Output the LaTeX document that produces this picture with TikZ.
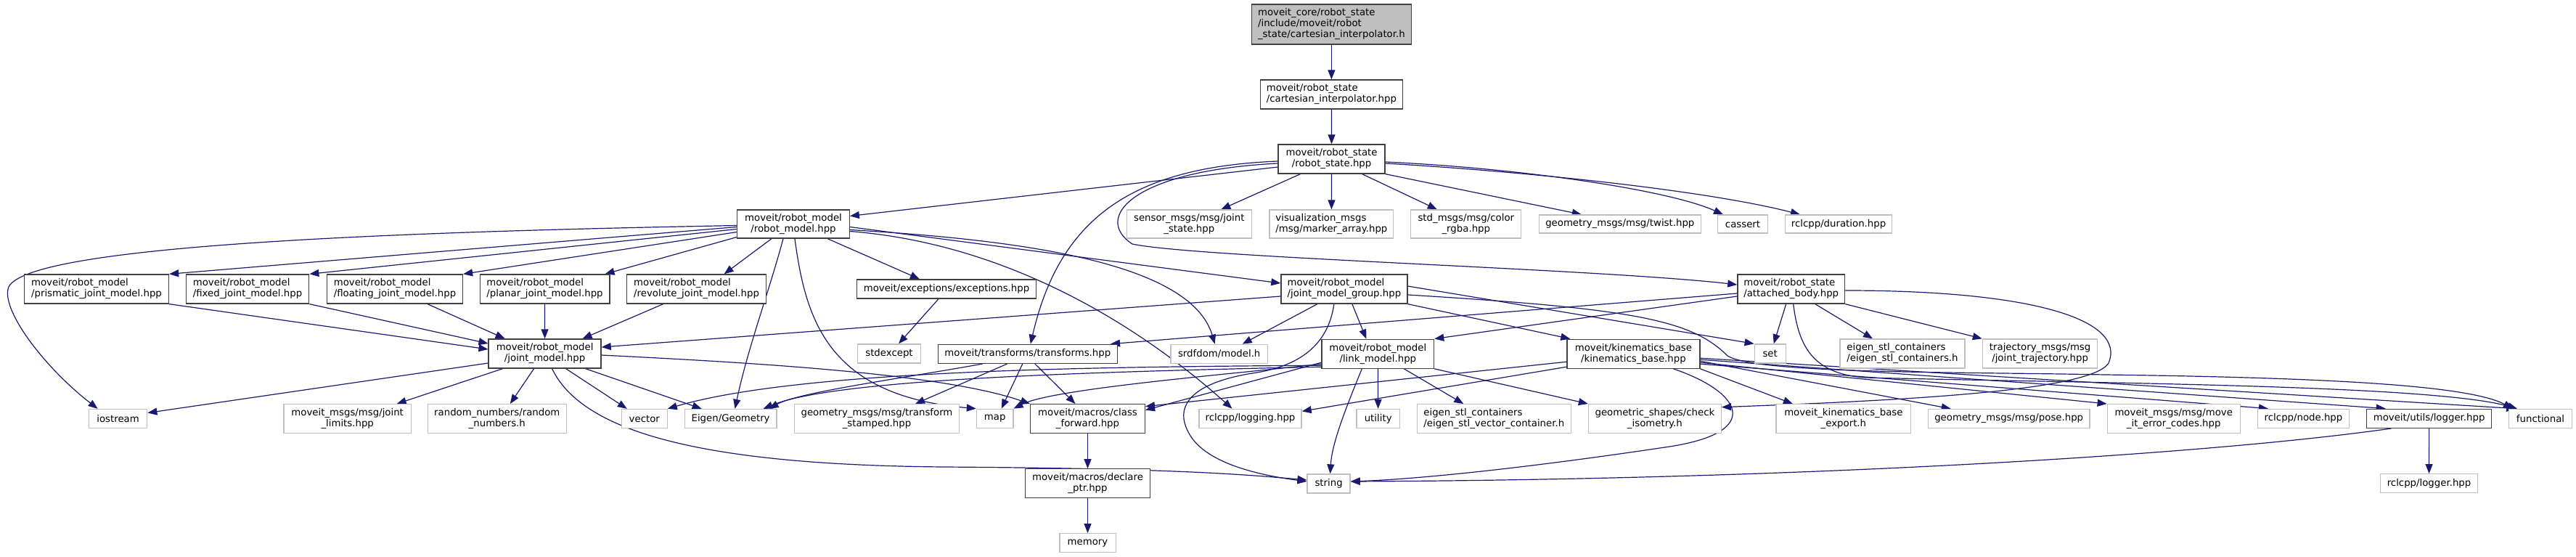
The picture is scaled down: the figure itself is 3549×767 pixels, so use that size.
\documentclass[tikz,border=0pt]{standalone}
\usepackage{fontspec}
\setmainfont{DejaVu Sans}
\usetikzlibrary{arrows.meta,calc}
\pgfdeclarelayer{bg}
\pgfsetlayers{bg,main}
\definecolor{edgec}{HTML}{191970}
\definecolor{docb}{HTML}{404040}
\definecolor{undocb}{HTML}{BFBFBF}
\definecolor{topfill}{HTML}{BFBFBF}
\begin{document}
\begin{tikzpicture}[x=1pt,y=-1pt,
  box/.style={draw, fill=white, line width=1.3pt, inner sep=0pt, font=\fontsize{13.3}{15}\selectfont, text=black},
  doc/.style={box, draw=docb},
  ext/.style={box, draw=undocb},
  L/.style={align=left},
  C/.style={align=center},
  wh/.style 2 args={minimum width=#1pt, minimum height=#2pt},
  edge/.style={draw=edgec, line width=1.2pt, -{Triangle[length=13pt,width=10pt]}},
]
\useasboundingbox (0,0) rectangle (3549,767);
% ---------- nodes ----------
\node[doc,L,wh={220.4}{55},fill=topfill] (top) at (1834.4,33.5) {moveit\_core/robot\_state\\/include/moveit/robot\\\_state/cartesian\_interpolator.h};
\node[doc,L,wh={196}{40}] (cart) at (1834.4,130) {moveit/robot\_state\\/cartesian\_interpolator.hpp};
\node[doc,C,wh={147}{40}] (rs) at (1834.6,219) {moveit/robot\_state\\/robot\_state.hpp};
\node[ext,C,wh={171.8}{39}] (sensor) at (1638.3,308.5) {sensor\_msgs/msg/joint\\\_state.hpp};
\node[ext,L,wh={170.7}{39}] (vis) at (1834.4,308.5) {visualization\_msgs\\/msg/marker\_array.hpp};
\node[ext,C,wh={152}{39}] (color) at (2019.8,308.5) {std\_msgs/msg/color\\\_rgba.hpp};
\node[ext,C,wh={223}{25}] (twist) at (2231.8,308.5) {geometry\_msgs/msg/twist.hpp};
\node[ext,C,wh={69.3}{25}] (cassert) at (2401,308.5) {cassert};
\node[ext,C,wh={147}{25}] (duration) at (2533,308.5) {rclcpp/duration.hpp};
\node[doc,C,wh={154.5}{39}] (rm) at (1093,308.5) {moveit/robot\_model\\/robot\_model.hpp};
\node[doc,L,wh={199}{40}] (prismatic) at (133,398) {moveit/robot\_model\\/prismatic\_joint\_model.hpp};
\node[doc,L,wh={169.5}{40}] (fixed) at (341,398) {moveit/robot\_model\\/fixed\_joint\_model.hpp};
\node[doc,L,wh={187}{40}] (floating) at (544,398) {moveit/robot\_model\\/floating\_joint\_model.hpp};
\node[doc,L,wh={178.7}{40}] (planar) at (750.5,398) {moveit/robot\_model\\/planar\_joint\_model.hpp};
\node[doc,L,wh={192}{40}] (revolute) at (959.6,398) {moveit/robot\_model\\/revolute\_joint\_model.hpp};
\node[doc,C,wh={247}{26}] (exceptions) at (1304,398) {moveit/exceptions/exceptions.hpp};
\node[doc,L,wh={174}{40}] (jmg) at (1851.9,398) {moveit/robot\_model\\/joint\_model\_group.hpp};
\node[doc,L,wh={147.7}{40}] (ab) at (2467.7,398) {moveit/robot\_state\\/attached\_body.hpp};
\node[doc,C,wh={155}{40}] (jm) at (750.6,487) {moveit/robot\_model\\/joint\_model.hpp};
\node[ext,C,wh={87}{26}] (stdexcept) at (1225,487) {stdexcept};
\node[doc,C,wh={247.2}{26}] (transforms) at (1415.8,487.3) {moveit/transforms/transforms.hpp};
\node[ext,C,wh={133.5}{26}] (srdf) at (1679.7,487.3) {srdfdom/model.h};
\node[doc,C,wh={154.6}{40}] (link) at (1898.3,487.2) {moveit/robot\_model\\/link\_model.hpp};
\node[doc,C,wh={182.9}{40}] (kin) at (2250.4,487.2) {moveit/kinematics\_base\\/kinematics\_base.hpp};
\node[ext,C,wh={43}{26}] (set) at (2438.7,487) {set};
\node[ext,L,wh={172}{40}] (eigenstl) at (2621,487) {eigen\_stl\_containers\\/eigen\_stl\_containers.h};
\node[ext,C,wh={158.4}{40}] (traj) at (2810.6,487) {trajectory\_msgs/msg\\/joint\_trajectory.hpp};
\node[ext,C,wh={80.4}{26}] (iostream) at (162.6,576.5) {iostream};
\node[ext,C,wh={175.2}{40}] (jlimits) at (478.7,576.7) {moveit\_msgs/msg/joint\\\_limits.hpp};
\node[ext,C,wh={191}{40}] (random) at (684.8,576.7) {random\_numbers/random\\\_numbers.h};
\node[ext,C,wh={62.7}{26}] (vector) at (887.8,576.5) {vector};
\node[ext,C,wh={126.7}{26}] (eigen) at (1006.6,576.5) {Eigen/Geometry};
\node[ext,C,wh={226.5}{40}] (tfstamped) at (1208,576.7) {geometry\_msgs/msg/transform\\\_stamped.hpp};
\node[ext,C,wh={50.5}{26}] (map) at (1370.7,576.3) {map};
\node[doc,C,wh={157.7}{40}] (cf) at (1498.5,576.7) {moveit/macros/class\\\_forward.hpp};
\node[ext,C,wh={141.2}{26}] (logging) at (1722.5,576.3) {rclcpp/logging.hpp};
\node[ext,C,wh={59.7}{26}] (utility) at (1898.7,576.5) {utility};
\node[ext,L,wh={212}{40}] (evc) at (2058.3,576.7) {eigen\_stl\_containers\\/eigen\_stl\_vector\_container.h};
\node[ext,C,wh={182.9}{40}] (iso) at (2279.9,576.7) {geometric\_shapes/check\\\_isometry.h};
\node[ext,C,wh={185.6}{40}] (kbe) at (2539.9,576.7) {moveit\_kinematics\_base\\\_export.h};
\node[ext,C,wh={222.7}{26}] (pose) at (2767.7,576.5) {geometry\_msgs/msg/pose.hpp};
\node[ext,C,wh={183}{40}] (errc) at (2994.7,576.7) {moveit\_msgs/msg/move\\\_it\_error\_codes.hpp};
\node[ext,C,wh={125.7}{26}] (rnode) at (3173.5,576.3) {rclcpp/node.hpp};
\node[doc,C,wh={172.3}{26}] (logger) at (3346.6,576.3) {moveit/utils/logger.hpp};
\node[ext,C,wh={86.8}{26}] (functional) at (3500,576.3) {functional};
\node[doc,C,wh={172.2}{40}] (dp) at (1498.5,665.8) {moveit/macros/declare\\\_ptr.hpp};
\node[ext,C,wh={59}{26}] (string) at (1830.6,666) {string};
\node[ext,C,wh={133.4}{26}] (rlogger) at (3346.5,665.7) {rclcpp/logger.hpp};
\node[ext,C,wh={77.3}{26}] (memory) at (1498.5,747.7) {memory};
% ---------- edges ----------
\begin{pgfonlayer}{bg}
\draw[edge] (top) -- (cart);
\draw[edge] (cart) -- (rs);
% robot_state
\draw[edge] ([shift={(0,11)}]rs.west) -- ([shift={(0,-11)}]rm.east);
\draw[edge] ([shift={(-43,0)}]rs.south) -- ([shift={(44,0)}]sensor.north);
\draw[edge] (rs) -- (vis);
\draw[edge] ([shift={(42,0)}]rs.south) -- ([shift={(-40,0)}]color.north);
\draw[edge] (rs.south east) -- ([shift={(-53,0)}]twist.north);
\draw[edge] ([shift={(0,4)}]rs.east) .. controls (2100,232) and (2300,262) .. ([shift={(-27,0)}]cassert.north);
\draw[edge] ([shift={(0,6)}]rs.east) .. controls (2100,236) and (2350,262) .. ([shift={(-53,0)}]duration.north);
\draw[edge] ([shift={(0,6)}]rs.west) .. controls (1560,235) and (1505,300) .. (1560,336) .. controls (1650,355) and (2200,370) .. ([shift={(0,-6)}]ab.west);
\draw[edge] ([shift={(0,3)}]rs.west) .. controls (1560,230) and (1460,300) .. ([shift={(4,0)}]transforms.north);
% robot_model
\draw[edge] ([shift={(0,2)}]rm.west) .. controls (500,320) and (40,340) .. (12,395) .. controls (0,425) and (60,505) .. ([shift={(-28,0)}]iostream.north);
\draw[edge] ([shift={(0,4)}]rm.west) -- (prismatic.north east);
\draw[edge] ([shift={(0,7)}]rm.west) -- (fixed.north east);
\draw[edge] ([shift={(0,11)}]rm.west) -- (floating.north east);
\draw[edge] ([shift={(0,18)}]rm.west) -- ([shift={(-7,0)}]planar.north east);
\draw[edge] ([shift={(-30,0)}]rm.south) -- ([shift={(38,0)}]revolute.north);
\draw[edge] ([shift={(47,0)}]rm.south) -- ([shift={(-37,0)}]exceptions.north);
\draw[edge] ([shift={(0,4)}]rm.east) -- ([shift={(0,-8)}]jmg.west);
\draw[edge] ([shift={(0,8)}]rm.east) .. controls (1400,330) and (1640,360) .. ([shift={(-6,0)}]srdf.north);
\draw[edge] ([shift={(0,10)}]rm.east) .. controls (1380,335) and (1560,440) .. ([shift={(-25,0)}]logging.north);
\draw[edge] ([shift={(-14,0)}]rm.south) .. controls (1060,400) and (1030,480) .. ([shift={(6,0)}]eigen.north);
\draw[edge] ([shift={(2,0)}]rm.south) .. controls (1110,440) and (1140,545) .. (map.north west);
% joint models -> joint_model
\draw[edge] (prismatic.south east) -- ([shift={(0,-6)}]jm.west);
\draw[edge] (fixed.south east) -- ([shift={(0,-14)}]jm.west);
\draw[edge] ([shift={(45,0)}]floating.south) -- ([shift={(-55,0)}]jm.north);
\draw[edge] (planar) -- (jm);
\draw[edge] ([shift={(-46,0)}]revolute.south) -- ([shift={(52,0)}]jm.north);
\draw[edge] ([shift={(-11,0)}]exceptions.south) -- ([shift={(13,0)}]stdexcept.north);
% joint_model
\draw[edge] ([shift={(0,13)}]jm.west) -- ([shift={(0,-8)}]iostream.east);
\draw[edge] ([shift={(-58,0)}]jm.south) -- ([shift={(68,0)}]jlimits.north);
\draw[edge] ([shift={(-15,0)}]jm.south) -- ([shift={(18,0)}]random.north);
\draw[edge] ([shift={(29,0)}]jm.south) -- ([shift={(-24,0)}]vector.north);
\draw[edge] ([shift={(56,0)}]jm.south) -- ([shift={(-40,0)}]eigen.north);
\draw[edge] ([shift={(10,0)}]jm.south) .. controls (800,590) and (950,640) .. (1300,643) .. controls (1600,645) and (1700,652) .. ([shift={(0,-5)}]string.west);
\draw[edge] ([shift={(0,2)}]jm.east) .. controls (1050,500) and (1300,515) .. (cf.north west);
% joint_model_group
\draw[edge] ([shift={(0,10)}]jmg.west) -- ([shift={(0,-9)}]jm.east);
\draw[edge] ([shift={(11,0)}]jmg.south) -- ([shift={(-16,0)}]link.north);
\draw[edge] (jmg.south east) -- ([shift={(5,0)}]kin.north west);
\draw[edge] ([shift={(-37,0)}]jmg.south) -- ([shift={(32,0)}]srdf.north);
\draw[edge] ([shift={(0,-4)}]jmg.east) -- (set.north west);
\draw[edge] ([shift={(-14,0)}]jmg.south) .. controls (1830,475) and (1790,505) .. (1725,514) .. controls (1640,528) and (1615,560) .. (1640,600) .. controls (1665,640) and (1740,655) .. ([shift={(0,-3)}]string.west);
\draw[edge] ([shift={(0,8)}]jmg.east) .. controls (2250,425) and (2330,440) .. (2380,490) .. controls (2420,515) and (2700,512) .. (2900,516) .. controls (3200,520) and (3400,530) .. ([shift={(6,0)}]functional.north west);
% kinematics_base
\draw[edge] ([shift={(0,18)}]kin.west) -- ([shift={(0,-10)}]logging.east);
\draw[edge] ([shift={(0,11)}]kin.west) -- ([shift={(0,-17)}]cf.east);
\draw[edge] (kin.south east) -- ([shift={(-70,0)}]kbe.north);
\draw[edge] ([shift={(0,10)}]kin.east) -- ([shift={(-80,0)}]pose.north);
\draw[edge] ([shift={(0,12)}]kin.east) -- (errc.north west);
\draw[edge] ([shift={(0,14)}]kin.east) -- ([shift={(15,0)}]rnode.north west);
\draw[edge] ([shift={(0,8)}]kin.east) -- ([shift={(27,0)}]logger.north west);
\draw[edge] ([shift={(0,6)}]kin.east) -- ([shift={(10,0)}]functional.north west);
\draw[edge] ([shift={(55,0)}]kin.south) .. controls (2400,540) and (2430,595) .. (2300,615) .. controls (2100,645) and (1950,660) .. ([shift={(0,-3)}]string.east);
% attached_body
\draw[edge] ([shift={(0,10)}]ab.west) -- (link.north east);
\draw[edge] ([shift={(0,6)}]ab.west) -- ([shift={(-10,0)}]transforms.north east);
\draw[edge] ([shift={(-7,0)}]ab.south) -- ([shift={(5,0)}]set.north);
\draw[edge] ([shift={(33,0)}]ab.south) -- ([shift={(-41,0)}]eigenstl.north);
\draw[edge] (ab.south east) -- (traj.north west);
\draw[edge] ([shift={(0,2)}]ab.east) .. controls (2800,400) and (2930,440) .. (2905,500) .. controls (2880,540) and (2600,552) .. ([shift={(0,-16)}]iso.east);
\draw[edge] ([shift={(3,0)}]ab.south) .. controls (2478,480) and (2500,515) .. (2570,520) .. controls (2900,528) and (3350,530) .. ([shift={(12,0)}]functional.north west);
% link_model
\draw[edge] (link) -- (utility);
\draw[edge] ([shift={(-22,0)}]link.south) .. controls (1855,560) and (1835,610) .. ([shift={(2,0)}]string.north);
\draw[edge] ([shift={(36,0)}]link.south) -- ([shift={(-42,0)}]evc.north);
\draw[edge] (link.south east) -- (iso.north west);
\draw[edge] ([shift={(0,12)}]link.west) -- ([shift={(0,-12)}]cf.east);
\draw[edge] ([shift={(0,14)}]link.west) .. controls (1700,515) and (1450,535) .. (map.north east);
\draw[edge] ([shift={(0,16)}]link.west) .. controls (1500,505) and (1100,510) .. (vector.north east);
\draw[edge] ([shift={(0,18)}]link.west) .. controls (1500,512) and (1150,522) .. ([shift={(45,0)}]eigen.north);
% transforms
\draw[edge] ([shift={(-62,0)}]transforms.south) .. controls (1250,520) and (1100,540) .. ([shift={(53,0)}]eigen.north);
\draw[edge] ([shift={(-28,0)}]transforms.south) -- ([shift={(53,0)}]tfstamped.north);
\draw[edge] ([shift={(-7,0)}]transforms.south) -- ([shift={(9,0)}]map.north);
\draw[edge] ([shift={(10,0)}]transforms.south) -- ([shift={(-17,0)}]cf.north);
% macros, logger
\draw[edge] (cf) -- (dp);
\draw[edge] (dp) -- (memory);
\draw[edge] (logger) -- (rlogger);
\draw[edge] ([shift={(-52,0)}]logger.south) .. controls (3050,625) and (2500,660) .. ([shift={(0,-3)}]string.east);
\end{pgfonlayer}
\end{tikzpicture}
\end{document}
